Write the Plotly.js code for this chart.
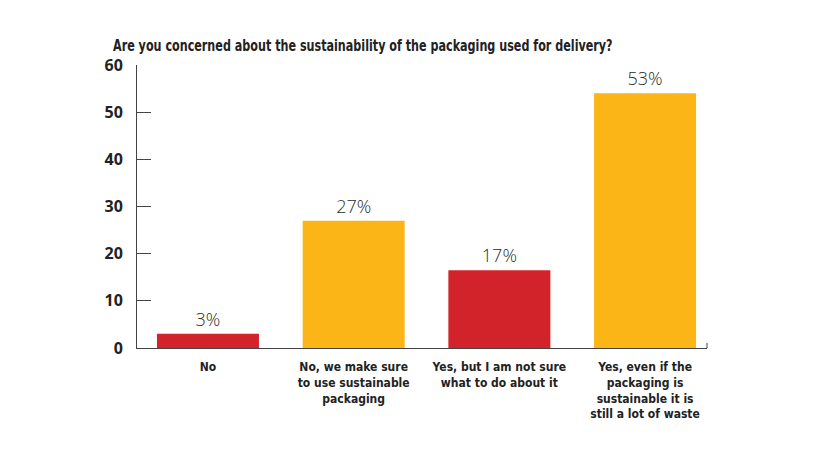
<!DOCTYPE html>
<html>
<head>
<meta charset="utf-8">
<script src="https://cdn.plot.ly/plotly-3.0.1.min.js"></script>
<style>html,body{margin:0;padding:0;background:#fff;}#chart{width:820px;height:450px;}</style>
</head>
<body>
<div id="chart"></div>
<script>
const categories = [
  "No",
  "No, we make sure<br>to use sustainable<br>packaging",
  "Yes, but I am not sure<br>what to do about it",
  "Yes, even if the<br>packaging is<br>sustainable it is<br>still a lot of waste"
];
const values = [3, 27, 16.5, 54];
const valueLabels = ["3%", "27%", "17%", "53%"];
const barColors = ["#D2232A", "#FBB517", "#D2232A", "#FBB517"];
const yTicks = [0, 10, 20, 30, 40, 50, 60];
const titleText = "Are you concerned about the sustainability of the packaging used for delivery?";

const condensed = "DejaVu Sans Condensed, sans-serif";

const trace = {
  type: "bar",
  x: [0, 1, 2, 3],
  y: values,
  text: valueLabels,
  textposition: "outside",
  cliponaxis: false,
  textfont: {family: "Open Sans, sans-serif", size: 18, color: "#2a2a2a", weight: 300},
  marker: {color: barColors},
  width: 0.7,
  hoverinfo: "skip"
};

const layout = {
  width: 820, height: 450,
  margin: {l: 137, r: 113, t: 65, b: 102},
  paper_bgcolor: "#fff", plot_bgcolor: "#fff",
  showlegend: false,
  title: {
    text: "<b>" + titleText + "</b>",
    x: 113 / 820, xanchor: "left", xref: "container",
    y: 1 - 45 / 450, yanchor: "middle", yref: "container",
    font: {family: condensed, size: 16, color: "#222"}
  },
  xaxis: {
    range: [-0.487, 3.425],
    tickvals: [0, 1, 2, 3],
    ticktext: categories,
    showline: true, linecolor: "#444", linewidth: 1,
    ticks: "", showgrid: false, zeroline: false,
    tickfont: {family: condensed, size: 12, color: "#222", weight: "bold"},
    ticklabelstandoff: 8
  },
  yaxis: {
    range: [0, 60],
    tickvals: yTicks,
    showline: true, linecolor: "#444", linewidth: 1,
    ticks: "inside", ticklen: 14, tickcolor: "#444", tickwidth: 1,
    showgrid: false, zeroline: false,
    tickfont: {family: "Open Sans, sans-serif", size: 16, color: "#222", weight: "bold"},
    ticklabelstandoff: 10
  },
  shapes: [{
    type: "line", xref: "paper", yref: "paper",
    x0: 1, x1: 1, y0: 0, y1: 0.018,
    line: {color: "#444", width: 1}
  }]
};

Plotly.newPlot("chart", [trace], layout, {displayModeBar: false, staticPlot: true}).then(function (gd) {
  // narrow the title horizontally to mimic the condensed typeface of the original
  const t = gd.querySelector(".gtitle");
  if (t) {
    const x0 = 113;
    const target = 500;
    const w = t.getBBox().width;
    const s = w > 0 ? Math.min(1, target / w) : 1;
    t.setAttribute("transform", "translate(" + x0 + ",0) scale(" + s + ",1) translate(" + (-x0) + ",0)");
  }
});
</script>
</body>
</html>
